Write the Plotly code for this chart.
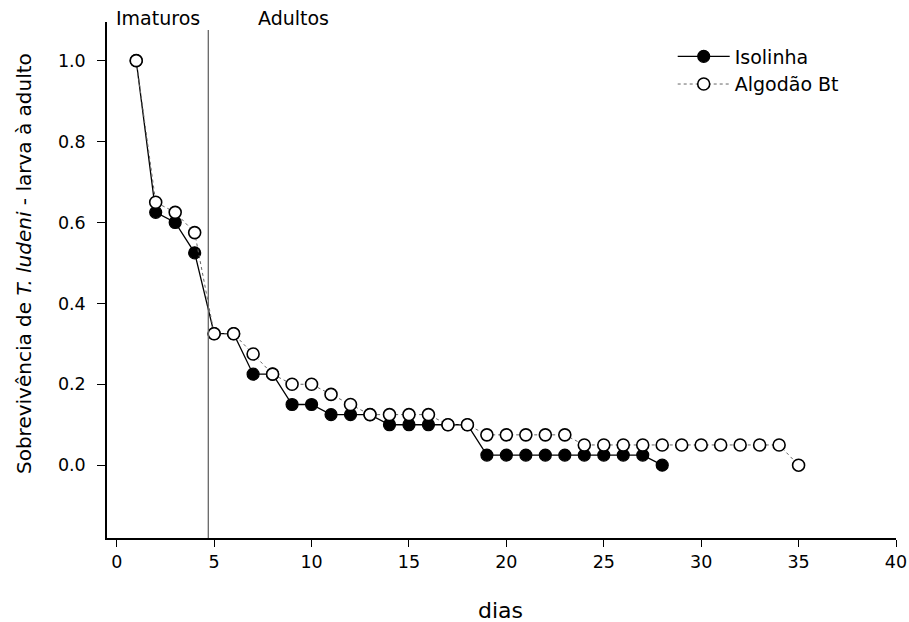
import plotly.graph_objects as go

dias_iso = list(range(1, 29))
sobrev_iso = [1.0, 0.625, 0.6, 0.525, 0.325, 0.325, 0.225, 0.225, 0.15, 0.15,
              0.125, 0.125, 0.125, 0.1, 0.1, 0.1, 0.1, 0.1, 0.025, 0.025,
              0.025, 0.025, 0.025, 0.025, 0.025, 0.025, 0.025, 0.0]

dias_bt = list(range(1, 36))
sobrev_bt = [1.0, 0.65, 0.625, 0.575, 0.325, 0.325, 0.275, 0.225, 0.2, 0.2,
             0.175, 0.15, 0.125, 0.125, 0.125, 0.125, 0.1, 0.1, 0.075, 0.075,
             0.075, 0.075, 0.075, 0.05, 0.05, 0.05, 0.05, 0.05, 0.05, 0.05,
             0.05, 0.05, 0.05, 0.05, 0.0]

x_ticks = [0, 5, 10, 15, 20, 25, 30, 35, 40]
y_ticks = [0.0, 0.2, 0.4, 0.6, 0.8, 1.0]
divisao = 4.7

font = "DejaVu Sans, Liberation Sans, Arial, sans-serif"

fig = go.Figure()
fig.add_trace(go.Scatter(
    x=dias_iso, y=sobrev_iso, mode="lines+markers", name="Isolinha",
    line=dict(color="black", width=1.3),
    marker=dict(symbol="circle", size=12, color="black",
                line=dict(color="black", width=1.2)),
))
fig.add_trace(go.Scatter(
    x=dias_bt, y=sobrev_bt, mode="lines+markers", name="Algodão Bt",
    line=dict(color="#666666", width=1, dash="dot"),
    marker=dict(symbol="circle", size=12, color="white",
                line=dict(color="black", width=1.6)),
))

fig.add_shape(type="line", xref="x", yref="y", x0=divisao, x1=divisao,
              y0=-0.18, y1=1.076, line=dict(color="#666666", width=1.3))

fig.add_annotation(text="Imaturos", xref="x", yref="paper", x=2.13, y=1.0,
                   yanchor="middle", yshift=4, showarrow=False,
                   font=dict(family=font, size=19, color="black"))
fig.add_annotation(text="Adultos", xref="x", yref="paper", x=9.05, y=1.0,
                   yanchor="middle", yshift=4, showarrow=False,
                   font=dict(family=font, size=19, color="black"))

# axis titles
fig.add_annotation(text="dias", xref="paper", yref="paper", x=0.499, y=0,
                   yanchor="middle", yshift=-72, showarrow=False,
                   font=dict(family=font, size=22, color="black"))
fig.add_annotation(text="Sobrevivência de <i>T. ludeni</i> - larva à adulto",
                   xref="paper", yref="paper", x=0, y=0.531,
                   xanchor="center", yanchor="middle", xshift=-83,
                   textangle=-90, showarrow=False,
                   font=dict(family=font, size=20, color="black"))

fig.update_layout(
    width=909, height=622,
    margin=dict(l=107, r=13, t=22, b=84, autoexpand=False),
    paper_bgcolor="white", plot_bgcolor="white",
    font=dict(family=font, size=17.5, color="black"),
    showlegend=True,
    legend=dict(x=0.717, y=0.970, xanchor="left", yanchor="top",
                bgcolor="rgba(0,0,0,0)", font=dict(size=19),
                tracegroupgap=0, itemwidth=52),
    xaxis=dict(range=[-0.5, 40], tickvals=x_ticks, ticks="outside",
               ticklen=7, tickwidth=1.2, tickcolor="black",
               showline=True, linecolor="black", linewidth=1.5,
               showgrid=False, zeroline=False, automargin=False,
               tickfont=dict(size=17.5)),
    yaxis=dict(range=[-0.18, 1.0956], tickvals=y_ticks, tickformat=".1f",
               ticks="outside", ticklen=8, tickwidth=1.2, tickcolor="black",
               showline=True, linecolor="black", linewidth=1.5,
               showgrid=False, zeroline=False, automargin=False,
               ticklabelstandoff=8,
               tickfont=dict(size=17.5)),
)

fig.write_html("out.html",
               config={"displayModeBar": False},
               post_script="document.body.style.margin='0';"
                           "document.body.style.overflow='hidden';")
